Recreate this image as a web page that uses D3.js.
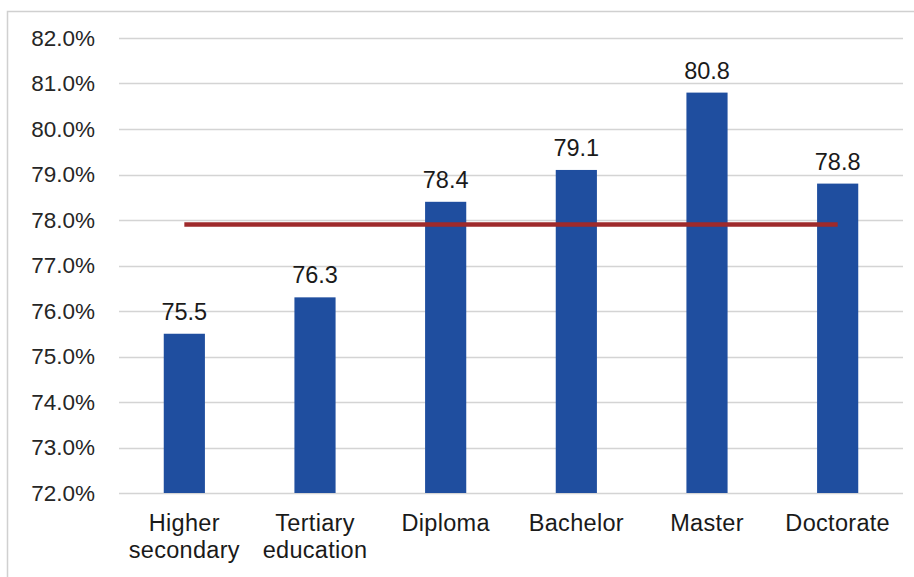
<!DOCTYPE html>
<html>
<head>
<meta charset="utf-8">
<script src="https://cdn.jsdelivr.net/npm/d3@7"></script>
<style>
  body { margin: 0; background: #fff; }
  svg { display: block; font-family: Arial, "Liberation Sans", sans-serif; }
</style>
</head>
<body>
<svg class="chart" width="914" height="577"></svg>
<script>
// data
var categories = ["Higher secondary", "Tertiary education", "Diploma", "Bachelor", "Master", "Doctorate"];
var values = [75.5, 76.3, 78.4, 79.1, 80.8, 78.8];
var average = [77.9, 77.9, 77.9, 77.9, 77.9, 77.9];
var yTicks = [72, 73, 74, 75, 76, 77, 78, 79, 80, 81, 82];

var svg = d3.select(".chart"),
  margin = { top: 38, right: 11, bottom: 84, left: 119 },
  width = +svg.attr("width") - margin.left - margin.right,
  height = +svg.attr("height") - margin.top - margin.bottom;

// outer frame (left + top edges visible)
svg.append("rect")
  .attr("x", 7.5).attr("y", 11.5)
  .attr("width", 920).attr("height", 600)
  .attr("fill", "none")
  .attr("stroke", "#d0d0d0")
  .attr("stroke-width", 1.5);

var g = svg.append("g")
  .attr("transform", "translate(" + margin.left + "," + margin.top + ")");

var x = d3.scaleBand()
  .domain(categories)
  .range([0, width])
  .paddingInner(0.685)
  .paddingOuter(0.3425);

var y = d3.scaleLinear()
  .domain([72, 82])
  .range([height, 0]);

// gridlines
g.append("g")
  .selectAll("line")
  .data(yTicks)
  .enter()
  .append("line")
  .attr("x1", 0)
  .attr("x2", width)
  .attr("y1", function (d) { return Math.round(y(d)) + 0.5; })
  .attr("y2", function (d) { return Math.round(y(d)) + 0.5; })
  .attr("stroke", "#d4d4d4")
  .attr("stroke-width", 1.3);

// y axis labels
var yAxis = g.append("g")
  .call(d3.axisLeft(y).tickValues(yTicks).tickSize(0).tickPadding(24)
    .tickFormat(function (d) { return d.toFixed(1) + "%"; }));
yAxis.select(".domain").remove();
yAxis.selectAll("text")
  .attr("font-size", 22.5)
  .attr("font-family", "Arial, 'Liberation Sans', sans-serif")
  .attr("fill", "#262626");

// bars
g.append("g")
  .selectAll("rect")
  .data(values)
  .enter()
  .append("rect")
  .attr("x", function (d, i) { return x(categories[i]); })
  .attr("y", function (d) { return y(d); })
  .attr("width", x.bandwidth())
  .attr("height", function (d) { return height - y(d); })
  .attr("fill", "#1f4e9f");

// value labels
g.append("g")
  .selectAll("text")
  .data(values)
  .enter()
  .append("text")
  .attr("x", function (d, i) { return x(categories[i]) + x.bandwidth() / 2; })
  .attr("y", function (d) { return y(d) - 14; })
  .attr("text-anchor", "middle")
  .attr("font-size", 23.5)
  .attr("fill", "#1a1a1a")
  .text(function (d) { return d.toFixed(1); });

// average line
var line = d3.line()
  .x(function (d, i) { return x(categories[i]) + x.bandwidth() / 2; })
  .y(function (d) { return y(d); });

g.append("path")
  .datum(average)
  .attr("d", line)
  .attr("fill", "none")
  .attr("stroke", "#9e2a2b")
  .attr("stroke-width", 4.5);

// x axis labels
var xAxis = g.append("g")
  .attr("transform", "translate(0," + height + ")")
  .call(d3.axisBottom(x).tickSize(0).tickPadding(0));
xAxis.select(".domain").remove();
xAxis.selectAll("text")
  .attr("font-size", 23.5)
  .attr("letter-spacing", 0.3)
  .attr("font-family", "Arial, 'Liberation Sans', sans-serif")
  .attr("fill", "#1a1a1a")
  .attr("dy", null)
  .attr("y", 0)
  .each(function (d) {
    var words = d.split(" "),
      t = d3.select(this).text(null);
    words.forEach(function (w, k) {
      t.append("tspan")
        .attr("x", 0)
        .attr("y", 38 + k * 26.5)
        .text(w);
    });
  });
</script>
</body>
</html>
